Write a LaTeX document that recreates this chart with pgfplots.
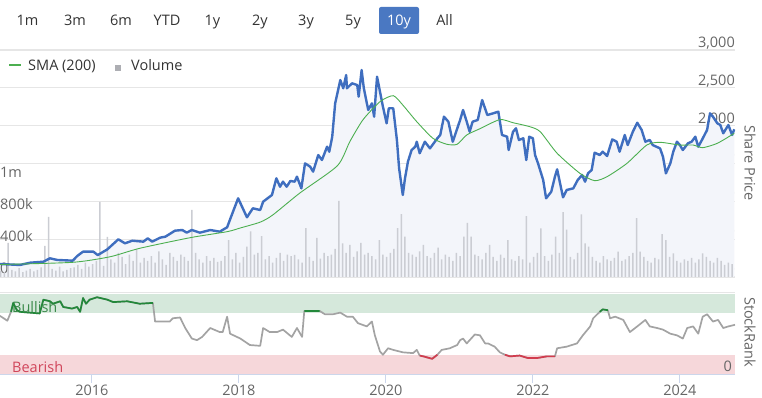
\documentclass[border=0pt]{standalone}
\usepackage{fontspec}
\setmainfont{Open Sans}
\usepackage{pgfplots}
\pgfplotsset{compat=1.18}
\usepackage{pgfplotstable}
\definecolor{pricec}{HTML}{3F6EBF}
\definecolor{smac}{HTML}{4CAF50}
\definecolor{areac}{HTML}{F3F5FA}
\definecolor{volc}{HTML}{CBCDD3}
\definecolor{gridc}{HTML}{E6E6E6}
\definecolor{labc}{HTML}{666666}
\definecolor{txtc}{HTML}{333333}
\definecolor{btnblue}{HTML}{4A78C2}
\definecolor{bandg}{HTML}{D5E8DB}
\definecolor{bandr}{HTML}{F6D7DA}
\definecolor{rankgray}{HTML}{A3A3A3}
\definecolor{rankgreen}{HTML}{23883A}
\definecolor{rankred}{HTML}{D23C4E}
\definecolor{bulltxt}{HTML}{3A8A4A}
\definecolor{beartxt}{HTML}{D0455A}
\definecolor{axc}{HTML}{CCD6EB}

\pgfplotstableread{
x y
2014.75 172
2015.02 159
2015.16 189
2015.34 202
2015.43 247
2015.53 225
2015.74 216
2015.80 277
2015.88 335
2016.02 335
2016.08 290
2016.21 365
2016.36 498
2016.45 445
2016.55 480
2016.70 467
2016.76 511
2016.82 467
2016.93 520
2017.00 533
2017.13 612
2017.23 621
2017.29 586
2017.36 621
2017.47 586
2017.61 621
2017.74 599
2017.84 657
2017.92 863
2017.99 1040
2018.11 789
2018.19 908
2018.29 885
2018.33 995
2018.45 1084
2018.51 1304
2018.56 1193
2018.60 1260
2018.65 1193
2018.70 1269
2018.76 1260
2018.79 1326
2018.85 1172
2018.90 1502
2018.97 1458
2019.01 1392
2019.08 1612
2019.13 1546
2019.20 1722
2019.23 1656
2019.27 1854
2019.31 2295
2019.38 2603
2019.42 2494
2019.46 2669
2019.47 2494
2019.54 2560
2019.61 2537
2019.63 2383
2019.67 2735
2019.70 2494
2019.76 2207
2019.81 2295
2019.84 2119
2019.88 2647
2019.92 2449
2019.96 2251
2020.01 2031
2020.04 2230
2020.10 2230
2020.15 1811
2020.18 1437
2020.23 1084
2020.26 1304
2020.30 1524
2020.35 1678
2020.40 1722
2020.42 1788
2020.46 1635
2020.53 1788
2020.60 1700
2020.70 1833
2020.74 1877
2020.79 2119
2020.85 2053
2020.91 1788
2021.01 2075
2021.05 2207
2021.10 2053
2021.14 1920
2021.18 2053
2021.25 2075
2021.31 2339
2021.38 2141
2021.46 2163
2021.53 2185
2021.58 1877
2021.65 1854
2021.67 1678
2021.73 1920
2021.77 1965
2021.81 1811
2021.87 1833
2021.91 1546
2021.95 1854
2022.00 1833
2022.03 1612
2022.07 1502
2022.14 1282
2022.18 1040
2022.25 1127
2022.30 1326
2022.33 1423
2022.37 1238
2022.41 1053
2022.46 1150
2022.55 1172
2022.61 1282
2022.67 1348
2022.71 1260
2022.75 1370
2022.80 1414
2022.84 1643
2022.91 1612
2022.95 1656
2023.01 1599
2023.08 1819
2023.14 1788
2023.18 1656
2023.25 1877
2023.29 1744
2023.36 1920
2023.42 2039
2023.48 1943
2023.53 1788
2023.59 1811
2023.63 1744
2023.73 1700
2023.77 1590
2023.81 1370
2023.87 1502
2023.91 1656
2023.96 1788
2024.00 1744
2024.04 1678
2024.11 1767
2024.16 1788
2024.21 1854
2024.25 1722
2024.30 1811
2024.37 1943
2024.41 2163
2024.45 2119
2024.51 2031
2024.55 2009
2024.59 1899
2024.66 2009
2024.71 1877
2024.74 1952
}\pricedata

\pgfplotstableread{
x y
2014.75 165
2015.74 194
2016.25 268
2016.65 379
2017.34 520
2017.84 599
2018.02 648
2018.29 725
2018.46 819
2018.83 1110
2019.34 1470
2019.51 1790
2019.69 2080
2019.92 2317
2020.10 2396
2020.23 2273
2020.42 2053
2020.64 1833
2020.83 1754
2020.97 1754
2021.10 1877
2021.28 1960
2021.55 2080
2021.73 2039
2021.96 1986
2022.10 1920
2022.33 1635
2022.64 1370
2022.84 1273
2023.01 1326
2023.28 1502
2023.55 1744
2023.73 1780
2024.00 1744
2024.18 1744
2024.31 1709
2024.51 1767
2024.74 1899
}\smadata

\pgfplotstableread{
x y
2014.75 73
2014.85 67
2014.90 78
2014.93 89
2014.98 80
2015.02 78
2015.29 76
2015.34 93
2015.43 91
2015.47 88
2015.57 91
2015.61 84
2015.73 82
2015.80 84
2015.84 78
2015.88 95
2015.92 88
2015.97 93
2016.07 96
2016.21 93
2016.29 90
2016.48 91
2016.65 88
2016.83 89
2016.86 66
2017.06 66
2017.10 70
2017.20 71
2017.27 58
2017.36 45
2017.43 43
2017.50 47
2017.61 58
2017.74 53
2017.78 53
2017.84 72
2017.88 51
2018.02 45
2018.15 37
2018.29 36
2018.33 58
2018.42 53
2018.52 53
2018.60 56
2018.72 47
2018.79 58
2018.86 47
2018.89 79
2019.10 79
2019.17 75
2019.28 75
2019.38 77
2019.47 72
2019.55 72
2019.62 64
2019.74 60
2019.81 66
2019.85 49
2019.92 29
2019.96 25
2020.03 33
2020.10 31
2020.23 28
2020.37 27
2020.42 31
2020.46 24
2020.51 23
2020.63 20
2020.70 25
2020.76 31
2020.87 33
2020.97 37
2021.01 43
2021.05 45
2021.10 39
2021.14 43
2021.21 50
2021.28 49
2021.35 39
2021.39 39
2021.48 35
2021.55 28
2021.62 25
2021.69 23
2021.82 24
2021.93 21
2022.06 21
2022.19 23
2022.30 23
2022.33 33
2022.46 35
2022.60 39
2022.68 49
2022.78 60
2022.82 70
2022.91 78
2022.95 81
2023.02 80
2023.05 70
2023.12 72
2023.23 68
2023.32 53
2023.42 60
2023.53 68
2023.59 60
2023.69 58
2023.77 56
2023.87 51
2023.96 49
2024.04 45
2024.10 58
2024.18 60
2024.25 51
2024.31 72
2024.37 75
2024.45 66
2024.52 68
2024.59 58
2024.66 60
2024.75 62
}\rankdata

\pgfplotstableread{
v
80
60
425
90
70
110
60
80
100
70
90
120
390
750
100
80
130
70
90
110
120
150
100
180
130
160
200
940
140
500
220
180
300
250
160
280
200
350
180
240
200
260
180
320
220
150
300
250
200
280
250
200
840
300
220
180
260
200
240
190
200
260
460
220
300
180
250
380
570
280
300
510
220
260
180
240
300
200
280
260
275
220
180
610
250
200
490
230
300
260
280
350
950
420
300
400
250
320
425
280
300
260
220
460
280
250
300
350
610
787
504
300
280
250
320
400
260
240
300
366
220
280
250
200
300
260
504
675
504
280
260
220
300
400
250
200
280
240
462
220
200
260
220
762
180
250
300
608
260
200
280
504
300
812
591
250
220
300
783
420
379
250
200
180
260
220
200
240
316
200
220
260
300
737
316
250
200
180
240
220
537
462
250
296
200
180
220
200
240
180
220
296
250
200
180
240
200
150
180
160
}\voldata

\begin{document}
\begin{tikzpicture}[x=1pt,y=1pt]
\useasboundingbox (0pt,0pt) rectangle (762pt,398pt);
% range buttons
\fill[btnblue, rounded corners=2pt] (379pt,364pt) rectangle (419pt,391pt);
\begin{scope}[every node/.style={font=\fontsize{14.5}{17}\selectfont, text=txtc, anchor=base, inner sep=0pt}]
\node at (27.5pt,372pt) {1m};
\node at (75pt,372pt) {3m};
\node at (121pt,372pt) {6m};
\node at (167pt,372pt) {YTD};
\node at (212.5pt,372pt) {1y};
\node at (260pt,372pt) {2y};
\node at (306pt,372pt) {3y};
\node at (353pt,372pt) {5y};
\node[text=white] at (399pt,372pt) {10y};
\node at (444.5pt,372pt) {All};
\end{scope}

% price background: grid, area, tick labels
\begin{axis}[at={(0pt,121pt)}, anchor=south west, scale only axis,
  width=735pt, height=227pt,
  xmin=2014.75, xmax=2024.75, ymin=0, ymax=3000,
  axis line style={draw=none}, xtick=\empty,
  ytick={0,500,1000,1500,2000,2500,3000},
  yticklabels={0.00,500,{1,000},{1,500},{2,000},{2,500},{3,000}},
  ymajorgrids, grid style={gridc, line width=1.2pt},
  major tick length=0pt, yticklabel pos=right,
  yticklabel style={anchor=base east, inner sep=0pt, yshift=2.5pt, text=labc, font=\fontsize{14.5}{17}\selectfont}]
\addplot[fill=areac, draw=none] table[x=x,y=y] {\pricedata} \closedcycle;
\end{axis}

% volume
\begin{axis}[at={(0pt,121pt)}, anchor=south west, scale only axis,
  width=735pt, height=227pt,
  xmin=2014.75, xmax=2024.75, ymin=0, ymax=2837.5,
  axis line style={draw=none}, xtick=\empty,
  ytick={0,400,800,1200}, yticklabels={0,400k,800k,1m},
  major tick length=0pt, yticklabel pos=left,
  yticklabel style={anchor=base west, inner sep=0pt, yshift=3pt, text=labc, font=\fontsize{14.5}{17}\selectfont}]
\addplot[ybar, bar width=1.5pt, fill=volc, draw=none] table[x expr=2014.76+0.05*\coordindex, y=v] {\voldata};
\end{axis}

% price and SMA lines
\begin{axis}[at={(0pt,121pt)}, anchor=south west, scale only axis,
  width=735pt, height=227pt,
  xmin=2014.75, xmax=2024.75, ymin=0, ymax=3000, hide axis]
\addplot[pricec, line width=2.4pt, line join=round] table[x=x,y=y] {\pricedata};
\addplot[smac, line width=0.9pt, smooth, tension=0.4] table[x=x,y=y] {\smadata};
\end{axis}

% legend
\draw[smac, line width=1.2pt] (9pt,333pt) -- (21pt,333pt);
\node[anchor=base west, inner sep=0pt, font=\fontsize{14.5}{17}\selectfont, text=txtc] at (28pt,327.5pt) {SMA (200)};
\fill[volc!85!black] (115pt,327pt) rectangle (121pt,333pt);
\node[anchor=base west, inner sep=0pt, font=\fontsize{14.5}{17}\selectfont, text=txtc] at (131pt,327.5pt) {Volume};

\node[rotate=-90, font=\fontsize{14.5}{17}\selectfont, text=labc] at (750pt,235pt) {Share Price};

% StockRank panel
\draw[gridc, line width=1pt] (0pt,105pt) -- (735pt,105pt);
\fill[bandg] (0pt,84.6pt) rectangle (735pt,104pt);
\fill[bandr] (0pt,23pt) rectangle (735pt,43.3pt);
\node[anchor=base west, inner sep=0pt, font=\fontsize{14.5}{17}\selectfont, text=bulltxt] at (12pt,85.5pt) {Bullish};
\node[anchor=base west, inner sep=0pt, font=\fontsize{14.5}{17}\selectfont, text=beartxt] at (12pt,25.5pt) {Bearish};
\node[anchor=base east, inner sep=0pt, font=\fontsize{14.5}{17}\selectfont, text=labc] at (732pt,26pt) {0};
\node[rotate=-90, font=\fontsize{14.5}{17}\selectfont, text=labc] at (750pt,66pt) {StockRank};

\begin{axis}[at={(0pt,23pt)}, anchor=south west, scale only axis,
  width=735pt, height=81pt,
  xmin=2014.75, xmax=2024.75, ymin=0, ymax=100,
  axis x line*=bottom, axis y line=none,
  x axis line style={axc, line width=1pt, -},
  xtick={2016,2018,2020,2022,2024},
  xticklabels={2016,2018,2020,2022,2024},
  tick style={axc, line width=1pt}, major tick length=8pt, tick align=outside,
  xticklabel style={anchor=base, inner sep=0pt, text=labc, font=\fontsize{14.5}{17}\selectfont, yshift=-12.5pt},
  unbounded coords=jump]
\addplot[rankgray, line width=1.7pt, line join=round] table[x=x,y=y] {\rankdata};
\addplot[rankgreen, line width=1.7pt, line join=round, restrict y to domain=76:100] table[x=x,y=y] {\rankdata};
\addplot[rankred, line width=1.7pt, line join=round, restrict y to domain=0:25] table[x=x,y=y] {\rankdata};
\end{axis}
\end{tikzpicture}
\end{document}
